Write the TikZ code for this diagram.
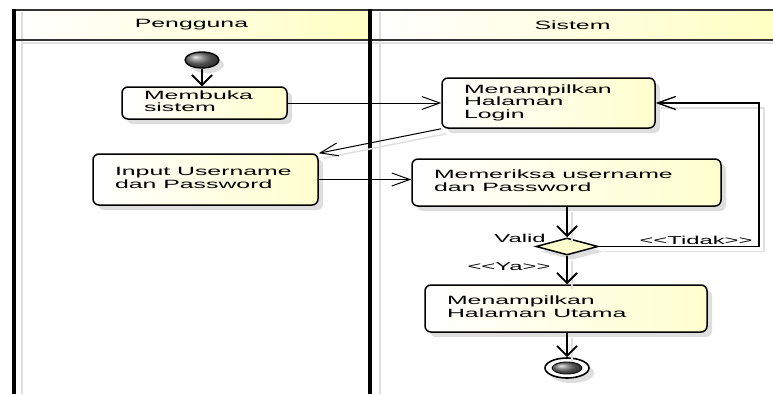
\documentclass[tikz,border=0pt]{standalone}
\usepackage{fontspec}
\setmainfont{Liberation Sans}
\usepackage{graphicx}
\usetikzlibrary{arrows.meta,shapes.geometric,shadows}
\definecolor{hdry}{RGB}{255,255,196}
\definecolor{boxy}{RGB}{255,255,206}
\newcommand{\wtxt}[1]{\scalebox{2.07}[1]{\begin{tabular}{@{}l@{}}#1\end{tabular}}}
\newcommand{\wone}[1]{\scalebox{2.07}[1]{#1}}
\begin{document}
\begin{tikzpicture}[x=1pt,y=-1pt,
  font=\fontsize{12}{12.5}\selectfont,
  actbox/.style={draw=black, line width=1.5pt, rounded corners=6pt,
    left color=white, right color=boxy, inner xsep=22pt, inner ysep=0pt,
    drop shadow={shadow xshift=5pt, shadow yshift=-5pt, fill=black!25, opacity=0.5}},
  hdrbox/.style={left color=white, right color=hdry, draw=none, inner sep=0pt},
  lane/.style={line width=4pt, black},
  hline/.style={line width=2.2pt, black!80},
  glane/.style={line width=2.5pt, black!13},
  varr/.style={-{Straight Barb[length=10pt,width=20pt]}, line width=1.8pt},
  harr/.style={-{Straight Barb[length=18pt,width=13pt]}, line width=1pt},
  lbl/.style={font=\fontsize{11.5}{12}\selectfont, inner sep=0pt},
  cshadow/.style={black!12, line width=1.5pt, transform canvas={xshift=5pt,yshift=-5pt}}
]
\useasboundingbox (0,0) rectangle (773,394);
\fill[white] (0,0) rectangle (773,394);
% headers
\node[hdrbox, minimum width=353pt, minimum height=29pt] (h1) at (191.5,25) {\wone{Pengguna}};
\node[hdrbox, minimum width=402pt, minimum height=29pt] (h2) at (572.5,25) {\wone{Sistem}};
% gray inner lines
\draw[glane] (22,12) -- (22,394);
\draw[glane] (380,12) -- (380,394);
\draw[black!12, line width=2.5pt] (22,43) -- (773,43);
% lane borders
\draw[hline] (12,10) -- (773,10);
\draw[hline] (12,40) -- (773,40);
\draw[lane] (13.5,8.5) -- (13.5,394);
\draw[lane] (369.5,8.5) -- (369.5,394);
% nodes
\node[ellipse, draw=black, line width=1.3pt, ball color=black!55, minimum width=34pt, minimum height=16pt, inner sep=0pt,
  drop shadow={shadow xshift=5pt, shadow yshift=-5pt, fill=black!25, opacity=0.5}] (start) at (202,60) {};
\node[actbox, minimum width=165pt, minimum height=32pt] (memb) at (204.5,103) {\makebox[121pt][l]{\wtxt{Membuka\\sistem}}};
\node[actbox, minimum width=213pt, minimum height=50pt] (login) at (548.5,103) {\makebox[169pt][l]{\wtxt{Menampilkan\\Halaman\\Login}}};
\node[actbox, minimum width=225pt, minimum height=51pt] (input) at (205.5,179.5) {\makebox[181pt][l]{\wtxt{Input Username\\dan Password}}};
\node[actbox, minimum width=309pt, minimum height=47pt] (memer) at (566.5,182.5) {\makebox[265pt][l]{\wtxt{Memeriksa username\\dan Password}}};
\node[diamond, draw=black, line width=1.5pt, fill=boxy, minimum width=62pt, minimum height=17pt, inner sep=0pt,
  drop shadow={shadow xshift=5pt, shadow yshift=-5pt, fill=black!25, opacity=0.5}] (dia) at (567,246.5) {};
\node[actbox, minimum width=282pt, minimum height=47pt] (utama) at (566,308.5) {\makebox[238pt][l]{\wtxt{Menampilkan\\Halaman Utama}}};
\node[ellipse, draw=black, line width=1.6pt, fill=white, minimum width=44pt, minimum height=20pt, inner sep=0pt,
  drop shadow={shadow xshift=5pt, shadow yshift=-5pt, fill=black!25, opacity=0.5}] (end) at (567,368) {};
\node[ellipse, draw=black, line width=0.8pt, ball color=black!55, minimum width=30pt, minimum height=12pt, inner sep=0pt] (endin) at (end.center) {};
% labels
\node[lbl] (valid) at (520,238) {\wone{Valid}};
\node[lbl] (tidak) at (696,240) {\wone{<{}<Tidak>{}>}};
\node[lbl] (ya) at (509,267) {\wone{<{}<Ya>{}>}};
% helper coordinates
\coordinate (tk1) at (759,246.5);
\coordinate (tk2) at (759,103);
% connector shadows
\draw[cshadow] (dia.east) -- (tk1) -- (tk2) -- (login.east);
\draw[cshadow] (login.south west) -- (input.north east);
\draw[cshadow] (memer.south -| dia.north) -- (dia.north);
\draw[cshadow] (dia.south) -- (dia.south |- utama.north);
\draw[cshadow] (utama.south -| end.north) -- (end.north);
% connectors
\draw[varr] (start.south) -- (start.south |- memb.north);
\draw[harr] (memb.east) -- (memb.east -| login.west);
\draw[harr] (login.south west) -- (input.north east);
\draw[harr] (input.east) -- (input.east -| memer.west);
\draw[varr] (memer.south -| dia.north) -- (dia.north);
\draw[varr] (dia.south) -- (dia.south |- utama.north);
\draw[varr] (utama.south -| end.north) -- (end.north);
\draw[harr, line width=1.3pt] (dia.east) -- (tk1) -- (tk2) -- (login.east);
\end{tikzpicture}
\end{document}
